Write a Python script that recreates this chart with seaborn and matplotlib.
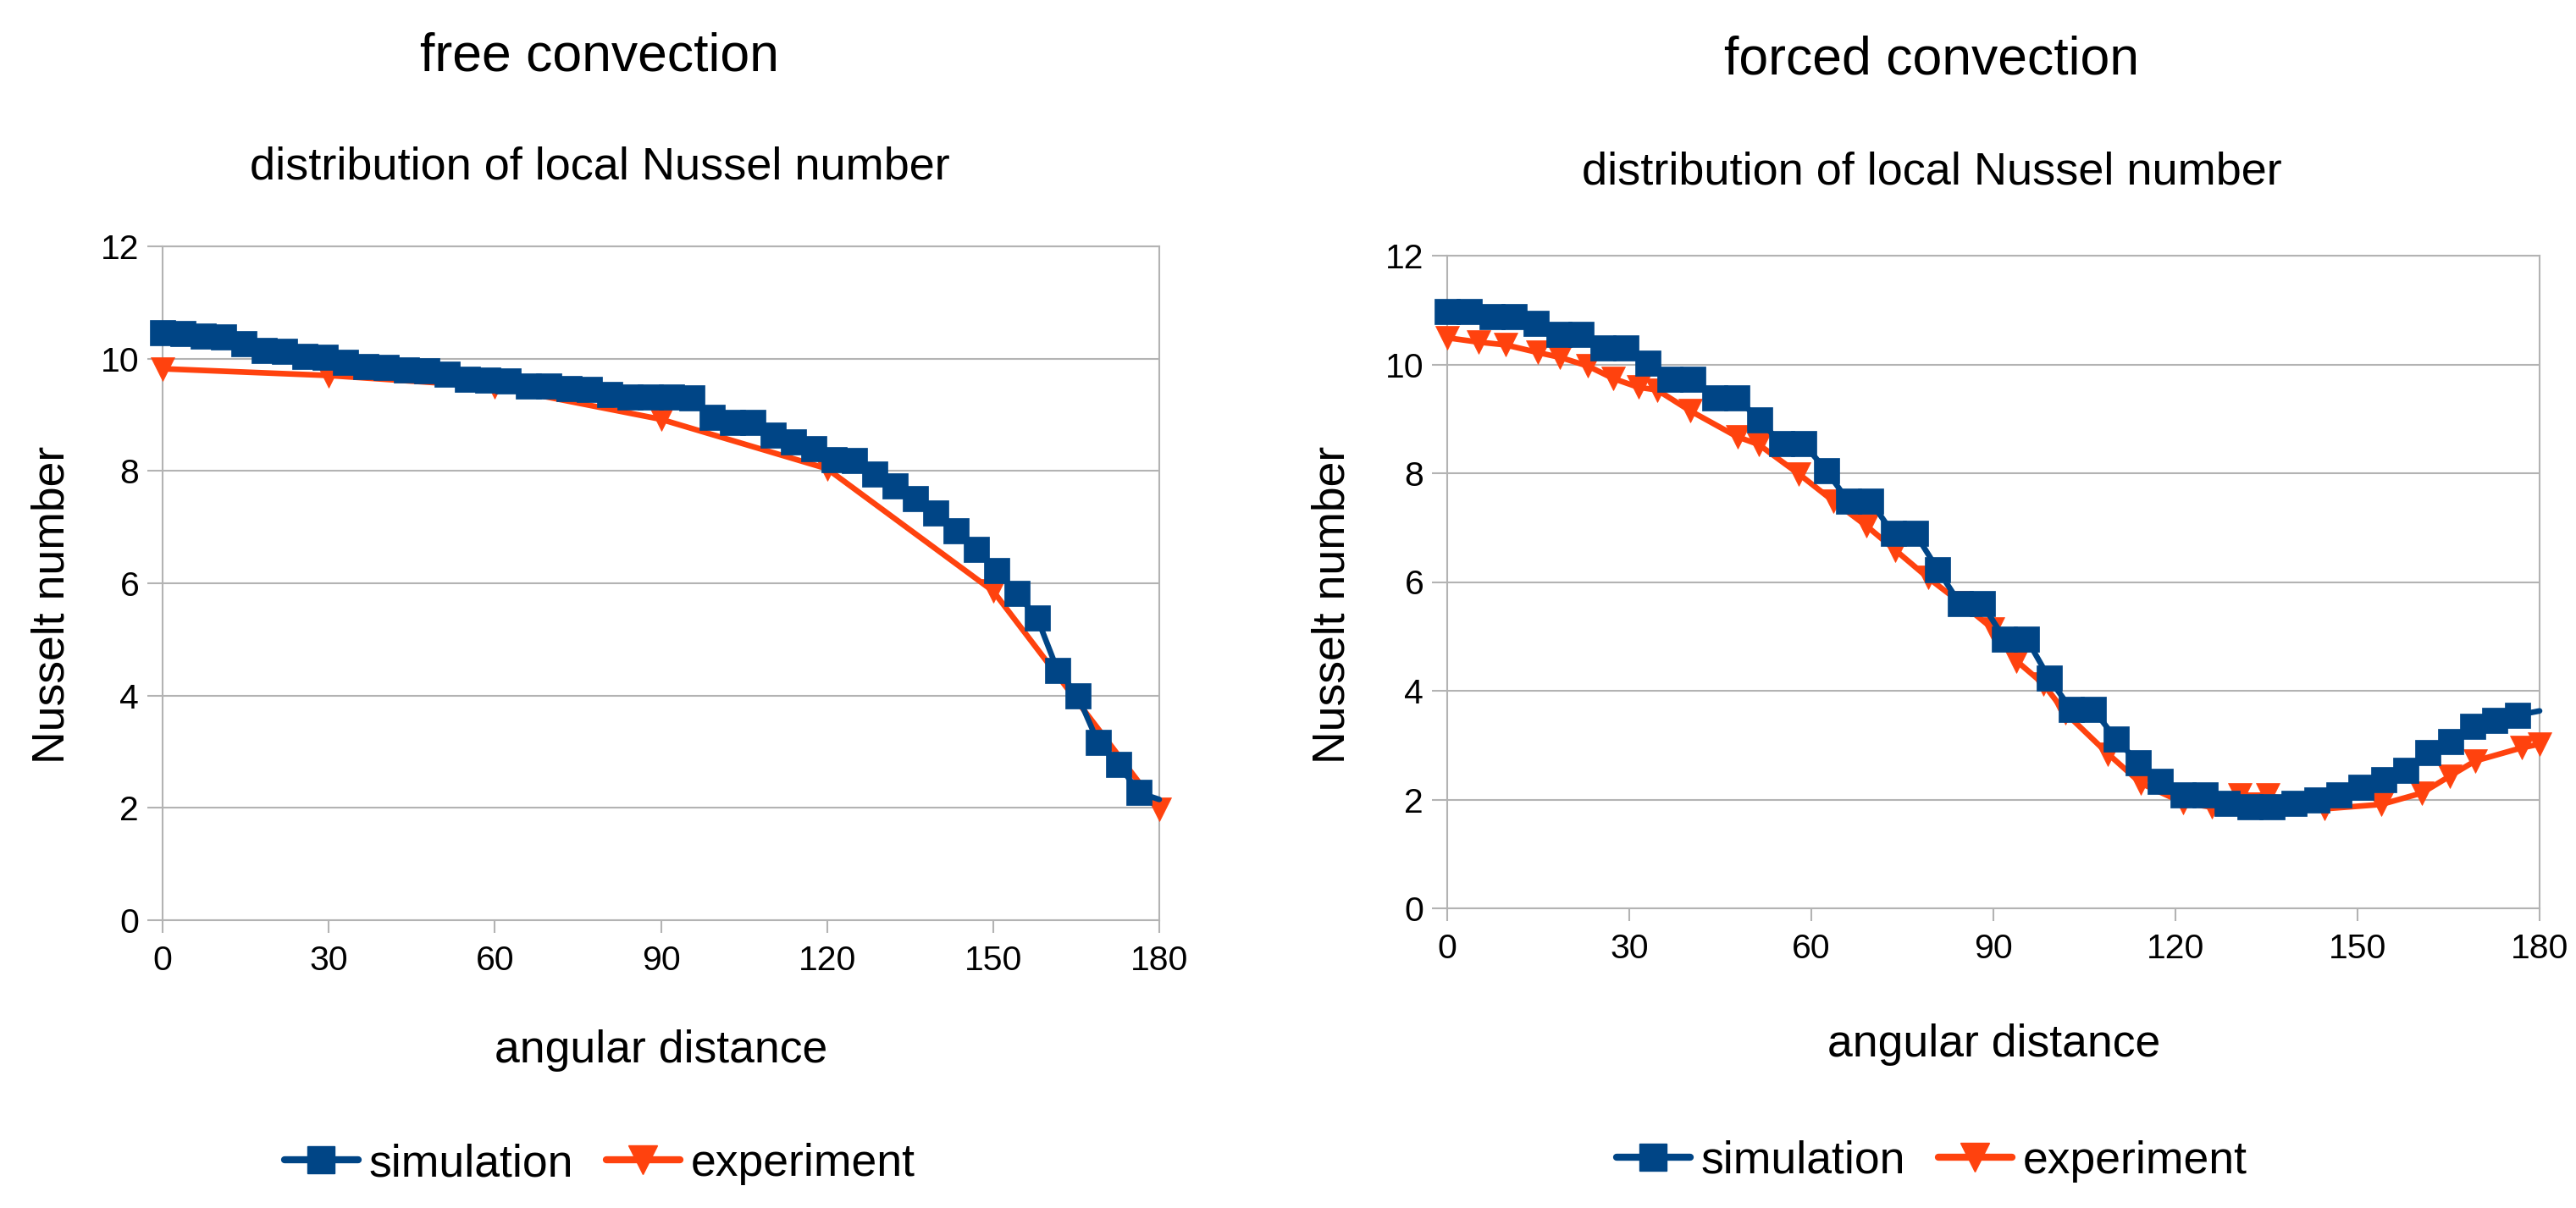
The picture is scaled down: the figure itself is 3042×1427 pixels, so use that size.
import numpy as np
import pandas as pd
import matplotlib
matplotlib.use("Agg")
import matplotlib.pyplot as plt
from matplotlib.lines import Line2D
import seaborn as sns

# angular positions of the simulation points (same for both cases)
angle_sim = [0.0, 3.67, 7.35, 11.02, 14.69, 18.37, 22.04, 25.71, 29.39, 33.06,
             36.73, 40.41, 44.08, 47.76, 51.43, 55.10, 58.78, 62.45, 66.12, 69.80,
             73.47, 77.14, 80.82, 84.49, 88.16, 91.84, 95.51, 99.18, 102.86, 106.53,
             110.20, 113.88, 117.55, 121.22, 124.90, 128.57, 132.24, 135.92, 139.59, 143.27,
             146.94, 150.61, 154.29, 157.96, 161.63, 165.31, 168.98, 172.65, 176.33, 180.0]

free_sim = [10.46, 10.45, 10.40, 10.39, 10.27, 10.14, 10.13, 10.04, 10.03, 9.94,
            9.86, 9.85, 9.80, 9.79, 9.72, 9.63, 9.62, 9.60, 9.52, 9.51,
            9.46, 9.45, 9.36, 9.32, 9.31, 9.31, 9.30, 8.96, 8.87, 8.86,
            8.64, 8.52, 8.40, 8.20, 8.18, 7.95, 7.73, 7.51, 7.25, 6.94,
            6.61, 6.23, 5.82, 5.38, 4.45, 3.99, 3.16, 2.78, 2.27, 2.15]

free_exp_angle = [0, 30, 60, 90, 120, 150, 180]
free_exp = [9.82, 9.70, 9.50, 8.92, 8.04, 5.86, 1.98]

forced_sim = [10.97, 10.97, 10.88, 10.88, 10.75, 10.55, 10.55, 10.31, 10.31, 10.03,
              9.72, 9.72, 9.38, 9.38, 8.98, 8.54, 8.54, 8.05, 7.48, 7.48,
              6.89, 6.89, 6.23, 5.60, 5.60, 4.95, 4.95, 4.23, 3.65, 3.65,
              3.11, 2.68, 2.34, 2.09, 2.09, 1.93, 1.86, 1.86, 1.93, 2.00,
              2.09, 2.22, 2.37, 2.53, 2.87, 3.06, 3.35, 3.45, 3.55, 3.63]

forced_exp_angle = [0, 5.2, 9.6, 14.9, 18.6, 23.2, 27.4, 31.5, 34.6, 40.0,
                    47.8, 51.3, 57.9, 63.6, 69.1, 73.8, 79.2, 84.6, 89.9, 93.8,
                    98.2, 101.9, 108.9, 114.3, 121.3, 126.0, 130.6, 135.2, 144.6, 153.9,
                    160.6, 165.2, 169.4, 177.0, 180.0]
forced_exp = [10.49, 10.41, 10.36, 10.22, 10.13, 9.97, 9.74, 9.58, 9.53, 9.15,
              8.67, 8.53, 7.99, 7.49, 7.03, 6.59, 6.08, 5.62, 5.14, 4.55,
              4.13, 3.59, 2.84, 2.30, 1.94, 1.86, 2.08, 2.08, 1.83, 1.91,
              2.12, 2.43, 2.71, 2.95, 3.02]

x_ticks = [0, 30, 60, 90, 120, 150, 180]
y_ticks = [0, 2, 4, 6, 8, 10, 12]

sns.set_theme(style="white")
plt.rcParams["font.family"] = ["Liberation Sans", "DejaVu Sans"]
plt.rcParams["text.color"] = "black"
plt.rcParams["xtick.labelcolor"] = "black"
plt.rcParams["ytick.labelcolor"] = "black"

BLUE = "#004586"
ORANGE = "#ff420e"
GRID = "#b3b3b3"
W, H = 3042, 1427

fig = plt.figure(figsize=(W / 100, H / 100), dpi=100)
fig.patch.set_facecolor("white")


def fx(x):
    return x / W


def fy(y):
    return 1 - y / H


panels = [
    dict(title="free convection", box=(192, 291, 1369, 1087), sim=free_sim,
         ex_x=free_exp_angle, ex_y=free_exp, cx=708, t_y=83, s_y=211,
         xl_x=781, xl_y=1255, yl_x=62, leg_y=1375),
    dict(title="forced convection", box=(1709, 302, 2999, 1073), sim=forced_sim,
         ex_x=forced_exp_angle, ex_y=forced_exp, cx=2281, t_y=87, s_y=218,
         xl_x=2355, xl_y=1248, yl_x=1574, leg_y=1372),
]

for p in panels:
    x0, y0, x1, y1 = p["box"]
    ax = fig.add_axes([fx(x0), fy(y1), (x1 - x0) / W, (y1 - y0) / H])

    sns.lineplot(x=p["ex_x"], y=p["ex_y"], ax=ax, color=ORANGE, linewidth=4.8,
                 marker="v", markersize=20, markeredgecolor=ORANGE,
                 markeredgewidth=0.5, zorder=3, clip_on=False)
    sns.lineplot(x=angle_sim, y=p["sim"], ax=ax, color=BLUE, linewidth=4.8,
                 marker="s", markersize=21, markeredgecolor=BLUE,
                 markeredgewidth=0.5, markevery=list(range(len(angle_sim) - 1)),
                 zorder=4, clip_on=False)

    ax.set_xlim(0, 180)
    ax.set_ylim(0, 12)
    ax.set_xticks(x_ticks)
    ax.set_yticks(y_ticks)
    ax.set_xlabel("")
    ax.set_ylabel("")
    ax.grid(axis="y", color=GRID, linewidth=1.5)
    ax.grid(axis="x", visible=False)
    ax.set_axisbelow(True)
    for s in ax.spines.values():
        s.set_color(GRID)
        s.set_linewidth(1.5)
        s.set_zorder(0.5)
    ax.tick_params(axis="x", direction="out", length=10.8, width=1.5, color=GRID,
                   pad=10, labelsize=29.5, labelcolor="black", bottom=True)
    ax.tick_params(axis="y", direction="out", length=13, width=1.5, color=GRID,
                   pad=7, labelsize=29.5, labelcolor="black", left=True)

    fig.text(fx(p["cx"]), fy(p["t_y"]), p["title"], ha="center", va="baseline",
             fontsize=45, color="black")
    fig.text(fx(p["cx"]), fy(p["s_y"]), "distribution of local Nussel number",
             ha="center", va="baseline", fontsize=39, color="black")
    fig.text(fx(p["xl_x"]), fy(p["xl_y"]), "angular distance", ha="center",
             va="baseline", fontsize=38.5, color="black")
    fig.text(fx(p["yl_x"]), fy(714), "Nusselt number", ha="center", va="center",
             rotation=90, fontsize=38.5, color="black")

    handles = [
        Line2D([], [], color=BLUE, linewidth=6, marker="s", markersize=23,
               markeredgecolor=BLUE),
        Line2D([], [], color=ORANGE, linewidth=6, marker="v", markersize=24,
               markeredgecolor=ORANGE),
    ]
    leg = ax.legend(handles, ["simulation", "experiment"], loc="center",
                    bbox_to_anchor=(fx(p["cx"]), fy(p["leg_y"])),
                    bbox_transform=fig.transFigure, ncol=2, frameon=False,
                    fontsize=38.5, handlelength=1.63, handletextpad=0.24,
                    columnspacing=0.72, borderpad=0)
    for t in leg.get_texts():
        t.set_color("black")

fig.savefig("out.png", dpi=100, facecolor="white")
